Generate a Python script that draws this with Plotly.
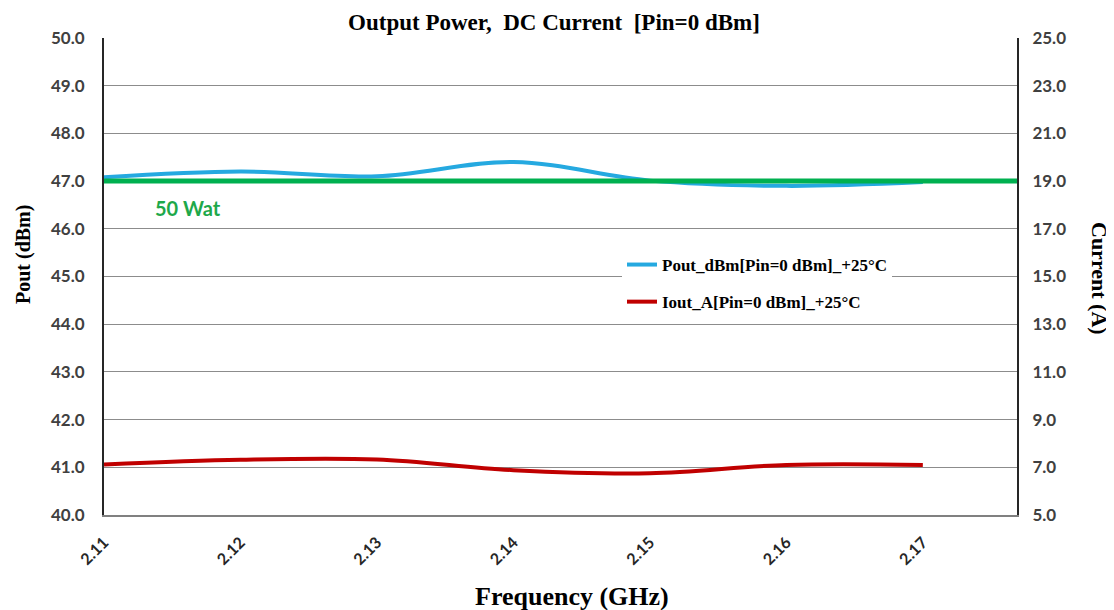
import plotly.graph_objects as go

freq = [2.11, 2.12, 2.13, 2.14, 2.15, 2.16, 2.17]
freq_labels = ["2.11", "2.12", "2.13", "2.14", "2.15", "2.16", "2.17"]
pout_dbm = [47.08, 47.20, 47.10, 47.40, 47.01, 46.90, 46.98]
iout_a = [7.12, 7.32, 7.33, 6.88, 6.75, 7.10, 7.10]
ref_level_dbm = 47.0
ref_label = "50 Wat"

serif = "Liberation Serif"
sans = "Lato"

# page body adds an 8px offset; figure pixel coords = screen - 8
W, H = 1114, 610
L, T, R, B = 96, 30, 105, 103
PW, PH = W - L - R, H - T - B


def px(xs):
    return (xs - 8 - L) / PW


def py(ys):
    return 1 - (ys - 8 - T) / PH


fig = go.Figure()
fig.add_trace(go.Scatter(
    x=freq, y=pout_dbm, mode="lines", name="Pout_dBm[Pin=0 dBm]_+25°C",
    line=dict(color="#25A9E0", width=4, shape="spline", smoothing=1.0),
    legendgroup="a",
))
fig.add_trace(go.Scatter(
    x=freq, y=iout_a, mode="lines", name="Iout_A[Pin=0 dBm]_+25°C",
    line=dict(color="#C00000", width=4, shape="spline", smoothing=1.0),
    yaxis="y2", legendgroup="b",
))
fig.add_hline(y=ref_level_dbm, line=dict(color="#00B050", width=5), layer="above")
fig.add_annotation(x=2.1136, y=46.44, xref="x", yref="y", text=ref_label,
                   showarrow=False, xanchor="left", yanchor="middle",
                   font=dict(family=sans, size=20, color="#1EA84A", weight="bold"))

# axis titles
fig.add_annotation(x=px(23), y=py(255), xref="paper", yref="paper", text="Pout (dBm)",
                   textangle=-90, showarrow=False, xanchor="center", yanchor="middle",
                   font=dict(family=serif, size=20, color="black", weight="bold"))
fig.add_annotation(x=px(1100), y=py(278), xref="paper", yref="paper", text="Current (A)",
                   textangle=90, showarrow=False, xanchor="center", yanchor="middle",
                   font=dict(family=serif, size=22, color="black", weight="bold"))
fig.add_annotation(x=px(572), y=py(596), xref="paper", yref="paper", text="Frequency (GHz)",
                   showarrow=False, xanchor="center", yanchor="middle",
                   font=dict(family=serif, size=26, color="black", weight="bold"))

fig.update_layout(
    width=W, height=H,
    margin=dict(l=L, r=R, t=T, b=B),
    paper_bgcolor="white", plot_bgcolor="white",
    title=dict(text="Output Power,  DC Current  [Pin=0 dBm]", x=(554 - 8) / W, xanchor="center",
               y=1 - (22 - 8) / H, yanchor="middle", yref="container",
               font=dict(family=serif, size=23, color="black", weight="bold")),
    xaxis=dict(range=[2.11, 2.1769], tickvals=freq, ticktext=freq_labels,
               tickangle=-45, showgrid=False, showline=True, linecolor="#808080",
               linewidth=1.5, ticks="", zeroline=False, automargin=False,
               ticklabelstandoff=10,
               tickfont=dict(family=sans, size=16, color="#262626", weight="bold")),
    yaxis=dict(range=[40, 50], dtick=1, tick0=40, tickformat=".1f", showgrid=True,
               gridcolor="#8C8C8C", gridwidth=1, showline=True, linecolor="#262626",
               linewidth=2, zeroline=False, ticks="", automargin=False,
               ticklabelstandoff=14,
               tickfont=dict(family=sans, size=17, color="#404040", weight="bold")),
    yaxis2=dict(range=[5, 25], dtick=2, tick0=5, tickformat=".1f", overlaying="y", side="right",
                showgrid=False, showline=True, linecolor="#262626", linewidth=2,
                zeroline=False, ticks="", automargin=False,
                ticklabelstandoff=10,
                tickfont=dict(family=sans, size=17, color="#404040", weight="bold")),
    legend=dict(x=px(622), y=py(247), xanchor="left", yanchor="top",
                bgcolor="white", tracegroupgap=12,
                font=dict(family=serif, size=17, color="black", weight="bold")),
    showlegend=True,
)

fig.write_html("out.html")
